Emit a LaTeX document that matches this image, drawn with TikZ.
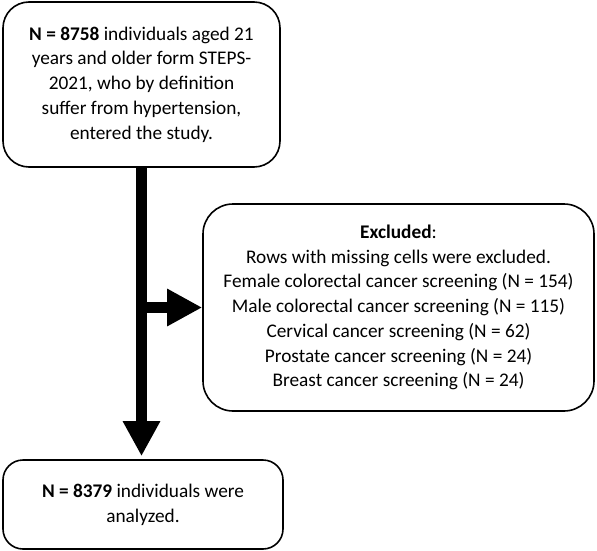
\documentclass[tikz,border=0pt]{standalone}
\usepackage{fontspec}
\setmainfont{Carlito}
\usetikzlibrary{arrows.meta}
\begin{document}
\begin{tikzpicture}[x=1pt,y=-1pt,
  box/.style={rectangle,draw=black,line width=1.6pt,align=center,inner sep=0pt,font=\fontsize{19.3}{24.7}\selectfont},
  flow/.style={line width=11pt,-{Triangle[width=35pt,length=35pt]}}]
\useasboundingbox (0,0) rectangle (597,551);
\node[box,rounded corners=26pt,minimum width=277pt,minimum height=165pt] (start) at (141.5,84.5) {\textbf{N = 8758} individuals aged 21\\years and older form STEPS-\\2021, who by definition\\suffer from hypertension,\\entered the study.};
\node[box,rounded corners=30pt,minimum width=391pt,minimum height=207pt] (excl) at (398.5,307.5) {\textbf{Excluded}:\\Rows with missing cells were excluded.\\Female colorectal cancer screening (N = 154)\\Male colorectal cancer screening (N = 115)\\Cervical cancer screening (N = 62)\\Prostate cancer screening (N = 24)\\Breast cancer screening (N = 24)};
\node[box,rounded corners=20pt,minimum width=280pt,minimum height=89pt] (final) at (143,504.5) {\textbf{N = 8379} individuals were\\analyzed.};
\draw[flow,shorten >=3pt] (start.south) -- (start.south |- final.north);
\draw[flow] (start.south |- excl.west) -- (excl.west);
\end{tikzpicture}
\end{document}
